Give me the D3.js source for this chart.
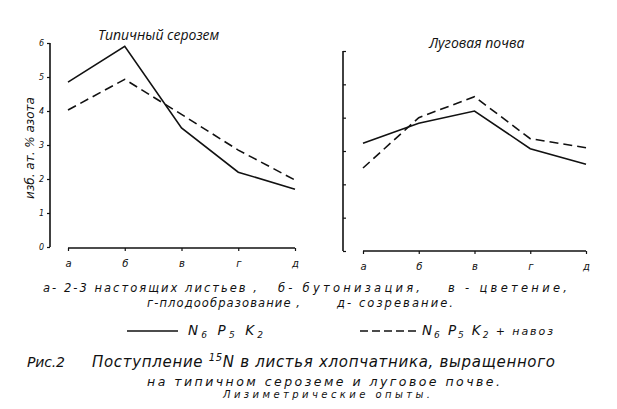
<!DOCTYPE html>
<html>
<head>
<meta charset="utf-8">
<script src="https://cdn.jsdelivr.net/npm/d3@7"></script>
<style>
  body { margin: 0; background: #fff; }
  svg { display: block; }
  .it { font-family: "DejaVu Sans", sans-serif; font-style: italic; fill: #111; }
  .ttl { font-family: "Open Sans", sans-serif; font-style: italic; fill: #111; }
</style>
</head>
<body>
<svg width="617" height="409"></svg>
<script>
"use strict";

// stages of growth (x categories)
var stages = ["а", "б", "в", "г", "д"];

// izb. at. % N, typical serozem
var seroSolid  = [4.85, 5.9, 3.5, 2.2, 1.7];
var seroDashed = [4.03, 4.93, 3.9, 2.85, 1.97];

// meadow soil
var lugSolid  = [3.23, 3.83, 4.2, 3.07, 2.6];
var lugDashed = [2.49, 4.0, 4.63, 3.37, 3.1];

var yTicks = [0, 1, 2, 3, 4, 5, 6];

var svg = d3.select("svg");

function drawPanel(opt)
{
    var x = d3.scalePoint().domain(stages).range([opt.x0, opt.x1]);
    var y = d3.scaleLinear().domain([0, 6]).range([opt.yb, opt.yt]);

    var g = svg.append("g");

    // y axis
    var yAxis = (opt.labels ? d3.axisLeft(y) : d3.axisRight(y))
        .tickValues(yTicks)
        .tickSize(3)
        .tickFormat(opt.labels ? d3.format("d") : "");
    var ya = g.append("g")
        .attr("transform", "translate(" + opt.ax + ",0)")
        .call(yAxis);
    ya.select(".domain").attr("stroke", "#111").attr("stroke-width", 1.6)
        .attr("d", "M0," + opt.yt + "V" + opt.yb);
    ya.selectAll(".tick line").attr("stroke", "#111").attr("stroke-width", 1.2);
    ya.selectAll(".tick text")
        .attr("class", "it")
        .style("font-size", "8px")
        .attr("x", -6);

    // x axis
    var xa = g.append("g")
        .attr("transform", "translate(0," + opt.xy + ")")
        .call(d3.axisBottom(x).tickSize(3).tickPadding(9));
    xa.select(".domain").attr("stroke", "#111").attr("stroke-width", 1.6)
        .attr("d", "M" + opt.x0 + ",0H" + opt.x1);
    xa.selectAll(".tick line").attr("stroke", "#111").attr("stroke-width", 1.2);
    xa.selectAll(".tick text")
        .attr("class", "it")
        .style("font-size", "10px");

    var line = d3.line()
        .x(function (d, i) { return x(stages[i]); })
        .y(function (d) { return y(d); });

    g.append("path")
        .datum(opt.solid)
        .attr("d", line)
        .attr("fill", "none")
        .attr("stroke", "#111")
        .attr("stroke-width", 1.6);

    g.append("path")
        .datum(opt.dashed)
        .attr("d", line)
        .attr("fill", "none")
        .attr("stroke", "#111")
        .attr("stroke-width", 1.6)
        .attr("stroke-dasharray", "9,5");

    g.append("text")
        .attr("class", "ttl")
        .attr("x", opt.tx)
        .attr("y", opt.ty)
        .style("font-size", "14px")
        .text(opt.title);
}

drawPanel({
    x0: 68, x1: 295, xy: 248,
    ax: 50, yt: 43, yb: 247,
    labels: true,
    solid: seroSolid, dashed: seroDashed,
    title: "Типичный серозем", tx: 98, ty: 40
});

drawPanel({
    x0: 363, x1: 586, xy: 251,
    ax: 343, yt: 51, yb: 251,
    labels: false,
    solid: lugSolid, dashed: lugDashed,
    title: "Луговая почва", tx: 429, ty: 48
});

// y axis title
svg.append("text")
    .attr("class", "it")
    .attr("transform", "translate(34,148) rotate(-90)")
    .attr("text-anchor", "middle")
    .style("font-size", "12px")
    .text("изб. ат. % азота");

// free text placed by left edge, width and baseline
function note(str, x, w, y, size)
{
    return svg.append("text")
        .attr("class", "it")
        .attr("x", x).attr("y", y)
        .attr("textLength", w).attr("lengthAdjust", "spacing")
        .style("font-size", size + "px")
        .text(str);
}

// stage legend
note("а- 2-3 настоящих листьев ,", 43, 214, 292, 11.5);
note("б- бутонизация,", 278, 142, 292, 11.5);
note("в - цветение,", 448, 119, 292, 11.5);
note("г-плодообразование ,", 147, 153, 307, 11.5);
note("д- созревание.", 337, 116, 307, 11.5);

// series legend
svg.append("line")
    .attr("x1", 127).attr("x2", 178).attr("y1", 331).attr("y2", 331)
    .attr("stroke", "#111").attr("stroke-width", 1.6);
svg.append("line")
    .attr("x1", 360).attr("x2", 418).attr("y1", 331).attr("y2", 331)
    .attr("stroke", "#111").attr("stroke-width", 1.6)
    .attr("stroke-dasharray", "8,4");

function npk(x, w, extra)
{
    var t = svg.append("text")
        .attr("class", "it").attr("x", x).attr("y", 335)
        .attr("textLength", w).attr("lengthAdjust", "spacing")
        .style("font-size", "13.5px");
    t.append("tspan").text("N");
    t.append("tspan").attr("dy", 3).style("font-size", "9px").text("6");
    t.append("tspan").attr("dy", -3).text(" P");
    t.append("tspan").attr("dy", 3).style("font-size", "9px").text("5");
    t.append("tspan").attr("dy", -3).text(" K");
    t.append("tspan").attr("dy", 3).style("font-size", "9px").text("2");
    if (extra)
        t.append("tspan").attr("dy", -3).style("font-size", "11px").text(extra);
}
npk(188, 75, null);
npk(422, 131, " + навоз");

// caption
note("Рис.2", 27, 38, 367, 14);

var cap = svg.append("text")
    .attr("class", "it")
    .attr("x", 92).attr("y", 367)
    .attr("textLength", 463).attr("lengthAdjust", "spacing")
    .style("font-size", "15px");
cap.append("tspan").text("Поступление ");
cap.append("tspan").attr("dy", -6).style("font-size", "10px").text("15");
cap.append("tspan").attr("dy", 6).text("N в листья хлопчатника, выращенного");

note("на типичном сероземе и луговое почве.", 147, 353, 386, 12.5);
note("Лизиметрические опыты.", 223, 207, 398, 10);
</script>
</body>
</html>
